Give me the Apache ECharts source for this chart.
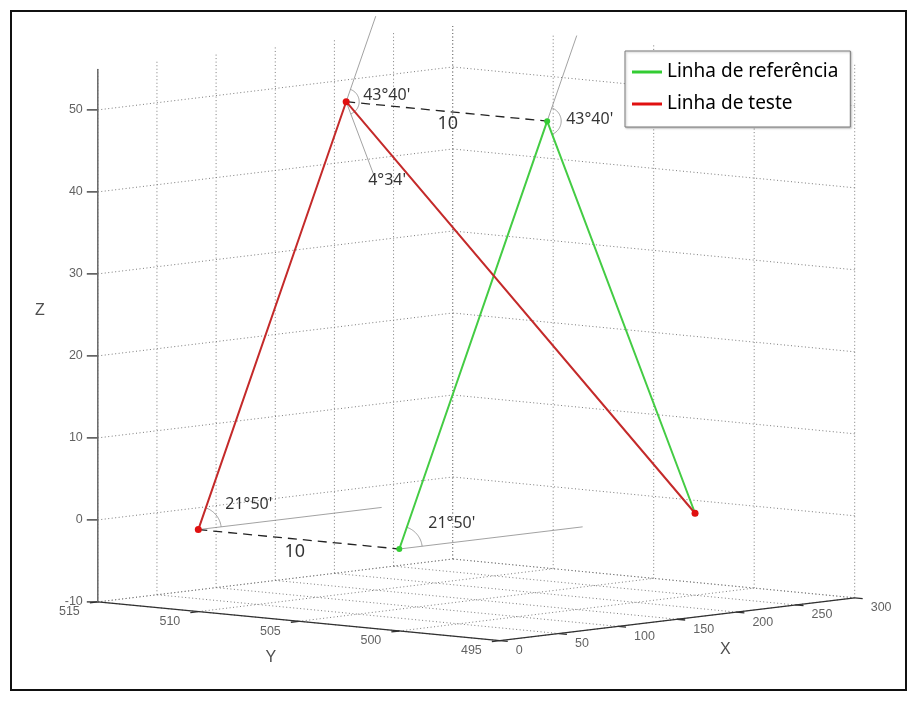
<!DOCTYPE html>
<html>
<head>
<meta charset="utf-8">
<script src="https://cdn.jsdelivr.net/npm/echarts/dist/echarts.min.js"></script>
<style>
  html, body { margin: 0; padding: 0; background: #fff; }
  #chart { width: 914px; height: 702px; }
</style>
</head>
<body>
<div id="chart"></div>
<script>
// Axis ticks and limits of the 3-D box
const xTicks = [0, 50, 100, 150, 200, 250, 300];
const yTicks = [495, 500, 505, 510, 515];
const zTicks = [-10, 0, 10, 20, 30, 40, 50];
const xLimits = [0, 300];
const yLimits = [495, 515];
const zLimits = [-10, 55];

// Reference line (green) and test line (red): vertices in X, Y, Z
const refX = [0, 125, 250];
const refY = [500, 500, 500];
const refZ = [0, 50, 0];
const testX = [0, 125, 250];
const testY = [510, 510, 500];
const testZ = [0, 50, 0];

// Annotation texts
const topAngle = "43°40'";
const baseAngle = "21°50'";
const deviationAngle = "4°34'";
const gapText = "10";
const refName = 'Linha de referência';
const testName = 'Linha de teste';

// Orthographic camera: screen offset per unit of x, y and z
const cam = { ox: 97.8, oy: 601.9, xx: 1.183, xy: -0.143, yx: 20.1, yy: 1.94, zy: 8.2 };
function P(x, y, z) {
  const u = yLimits[1] - y, w = z - zLimits[0];
  return [cam.ox + cam.xx * x + cam.yx * u, cam.oy + cam.xy * x + cam.yy * u - cam.zy * w];
}
function pts(xs, ys, zs) { return xs.map((x, i) => P(x, ys[i], zs[i])); }
function lerp3(a, b, t) { return a.map((v, i) => v + (b[i] - v) * t); }
function unit(d) { const l = Math.hypot(d[0], d[1]); return [d[0] / l, d[1] / l]; }
function ang(a, b) { return Math.atan2(b[1] - a[1], b[0] - a[0]); }
function arc(c, a0, a1, r, n) {
  const out = [];
  for (let i = 0; i <= n; i++) {
    const a = a0 + (a1 - a0) * i / n;
    out.push([c[0] + r * Math.cos(a), c[1] + r * Math.sin(a)]);
  }
  return out;
}

const [x0, x1] = xLimits, [y0, y1] = yLimits, [z0, z1] = zLimits;

// Dotted grid on the two back walls and the floor
const gridSegs = [];
xTicks.forEach(x => gridSegs.push([P(x, y1, z0), P(x, y1, z1)]));
zTicks.forEach(z => gridSegs.push([P(x0, y1, z), P(x1, y1, z)]));
yTicks.forEach(y => gridSegs.push([P(x1, y, z0), P(x1, y, z1)]));
zTicks.forEach(z => gridSegs.push([P(x1, y0, z), P(x1, y1, z)]));
xTicks.forEach(x => gridSegs.push([P(x, y0, z0), P(x, y1, z0)]));
yTicks.forEach(y => gridSegs.push([P(x0, y, z0), P(x1, y, z0)]));

// Axis lines
const axisSegs = [
  [P(x0, y0, z0), P(x1, y0, z0)],
  [P(x0, y0, z0), P(x0, y1, z0)]
];
const zAxisSeg = [P(x0, y1, z0), P(x0, y1, z1)];

// Tick marks
const tickLen = 8;
const dxDir = unit([-cam.xx, -cam.xy]);   // towards -x on screen
const dyDir = unit([cam.yx, cam.yy]);     // towards -y on screen
const tickSegs = [];
xTicks.forEach(x => { const p = P(x, y0, z0); tickSegs.push([p, [p[0] + dyDir[0] * tickLen, p[1] + dyDir[1] * tickLen]]); });
yTicks.forEach(y => { const p = P(x0, y, z0); tickSegs.push([p, [p[0] + dxDir[0] * tickLen, p[1] + dxDir[1] * tickLen]]); });
zTicks.forEach(z => { const p = P(x0, y1, z); tickSegs.push([p, [p[0] - 11, p[1]]]); });

// Tick labels
const tickLabels = [];
xTicks.forEach(x => { const p = P(x, y0, z0); tickLabels.push({ value: [p[0] + 16, p[1] + 10], name: String(x), label: { align: 'left' } }); });
yTicks.forEach(y => { const p = P(x0, y, z0); tickLabels.push({ value: [p[0] - 18, p[1] + 10], name: String(y), label: { align: 'right' } }); });
zTicks.forEach(z => { const p = P(x0, y1, z); tickLabels.push({ value: [p[0] - 15, p[1]], name: String(z), label: { align: 'right' } }); });

// Axis titles
const axisTitles = [
  { value: [P((x0 + x1) / 2, y0, z0)[0] + 48, P((x0 + x1) / 2, y0, z0)[1] + 30], name: 'X' },
  { value: [P(x0, (y0 + y1) / 2, z0)[0] - 28, P(x0, (y0 + y1) / 2, z0)[1] + 36], name: 'Y' },
  { value: [40, P(x0, y1, 20)[1] - 45], name: 'Z' }
];

// Construction lines, angle arcs and dimension lines
const r1 = [testX[0], testY[0], testZ[0]], r2 = [testX[1], testY[1], testZ[1]], r3 = [testX[2], testY[2], testZ[2]];
const g1 = [refX[0], refY[0], refZ[0]], g2 = [refX[1], refY[1], refZ[1]], g3 = [refX[2], refY[2], refZ[2]];
const R1 = P(...r1), R2 = P(...r2), G1 = P(...g1), G2 = P(...g2);
const extR = P(...lerp3(r2, lerp3(r1, r2, 2), 0.2));
const extG = P(...lerp3(g2, lerp3(g1, g2, 2), 0.2));
const devEnd = P(r2[0] + (g3[0] - g2[0]) * 0.2, r2[1], r2[2] + (g3[2] - g2[2]) * 0.2);
const baseR = P(r1[0] + 155, r1[1], r1[2]);
const baseG = P(g1[0] + 155, g1[1], g1[2]);
const aUp = ang(R1, R2), aDown = ang(G2, P(...g3)), aBase = ang(R1, baseR);
const thinSegs = [
  [R2, extR], [G2, extG], [R2, devEnd], [R1, baseR], [G1, baseG],
  arc(R2, aUp, aDown, 13, 30), arc(G2, aUp, aDown, 14, 30),
  arc(R1, aUp, aBase, 23, 20), arc(G1, aUp, aBase, 23, 20)
];
const dashSegs = [[R1, G1], [R2, G2]];

const mid = (a, b) => [(a[0] + b[0]) / 2, (a[1] + b[1]) / 2];
const notes = [
  { value: [R2[0] + 17, R2[1] - 6], name: topAngle, label: { align: 'left' } },
  { value: [G2[0] + 19, G2[1] - 2], name: topAngle, label: { align: 'left' } },
  { value: [R2[0] + 22, R2[1] + 79], name: deviationAngle, label: { align: 'left' } },
  { value: [R1[0] + 27, R1[1] - 25], name: baseAngle, label: { align: 'left' } },
  { value: [G1[0] + 29, G1[1] - 26], name: baseAngle, label: { align: 'left' } },
  { value: [mid(R2, G2)[0] + 1, mid(R2, G2)[1] + 12], name: gapText, label: { align: 'center', fontSize: 18 } },
  { value: [mid(R1, G1)[0] - 4, mid(R1, G1)[1] + 13], name: gapText, label: { align: 'center', fontSize: 18 } }
];

const toLines = segs => segs.map(s => ({ coords: s }));
const textSeries = (data, style) => ({
  type: 'scatter', data, symbolSize: 0, silent: true, z: 6,
  label: Object.assign({ show: true, position: [0, 0], formatter: '{b}', verticalAlign: 'middle' }, style)
});

const chart = echarts.init(document.getElementById('chart'), null, { renderer: 'canvas' });
chart.setOption({
  animation: false,
  backgroundColor: '#fff',
  grid: { left: 0, top: 0, width: 914, height: 702 },
  xAxis: { type: 'value', min: 0, max: 914, show: false },
  yAxis: { type: 'value', min: 0, max: 702, inverse: true, show: false },
  legend: {
    left: 625, top: 51, orient: 'vertical',
    data: [{ name: refName, icon: 'rect' }, { name: testName, icon: 'rect' }],
    itemWidth: 30, itemHeight: 3, itemGap: 12,
    padding: [11, 12, 13, 7],
    textStyle: { fontFamily: 'Noto Sans', fontSize: 19, color: '#000', lineHeight: 20 },
    backgroundColor: '#fff', borderColor: '#7a7a7a', borderWidth: 1,
    shadowColor: 'rgba(0,0,0,0.25)', shadowBlur: 2, shadowOffsetX: 1, shadowOffsetY: 1
  },
  graphic: [{
    type: 'rect', shape: { x: 11, y: 11, width: 895, height: 679 },
    style: { fill: null, stroke: '#111', lineWidth: 2 }, silent: true, z: 100
  }],
  series: [
    { type: 'lines', coordinateSystem: 'cartesian2d', polyline: true, silent: true, z: 1,
      data: toLines(gridSegs), lineStyle: { color: '#7c7c7c', width: 1, type: [1, 2.5], opacity: 1 } },
    { type: 'lines', coordinateSystem: 'cartesian2d', polyline: true, silent: true, z: 2,
      data: toLines(axisSegs.concat(tickSegs)), lineStyle: { color: '#303030', width: 1.3, opacity: 1 } },
    { type: 'lines', coordinateSystem: 'cartesian2d', polyline: true, silent: true, z: 2,
      data: toLines([zAxisSeg]), lineStyle: { color: '#666', width: 1.5, opacity: 1 } },
    { type: 'lines', coordinateSystem: 'cartesian2d', polyline: true, silent: true, z: 3,
      data: toLines(thinSegs), lineStyle: { color: '#8a8a8a', width: 0.8, opacity: 1 } },
    { type: 'lines', coordinateSystem: 'cartesian2d', polyline: true, silent: true, z: 3,
      data: toLines(dashSegs), lineStyle: { color: '#222', width: 1.3, type: [9, 6], opacity: 1 } },
    { name: refName, type: 'line', z: 4, data: pts(refX, refY, refZ),
      symbol: 'circle', symbolSize: 6, showSymbol: true,
      itemStyle: { color: '#33cc33' }, lineStyle: { color: '#44cc44', width: 2 } },
    { name: testName, type: 'line', z: 5, data: pts(testX, testY, testZ),
      symbol: 'circle', symbolSize: 7, showSymbol: true,
      itemStyle: { color: '#e01010' }, lineStyle: { color: '#c42a2a', width: 2 } },
    textSeries(tickLabels, { fontFamily: 'Liberation Sans', fontSize: 12.5, color: '#3a3a3a' }),
    textSeries(axisTitles, { fontFamily: 'Liberation Sans', fontSize: 16, color: '#222', align: 'center' }),
    textSeries(notes, { fontFamily: 'Noto Sans', fontSize: 16, color: '#000' })
  ]
});
</script>
</body>
</html>
